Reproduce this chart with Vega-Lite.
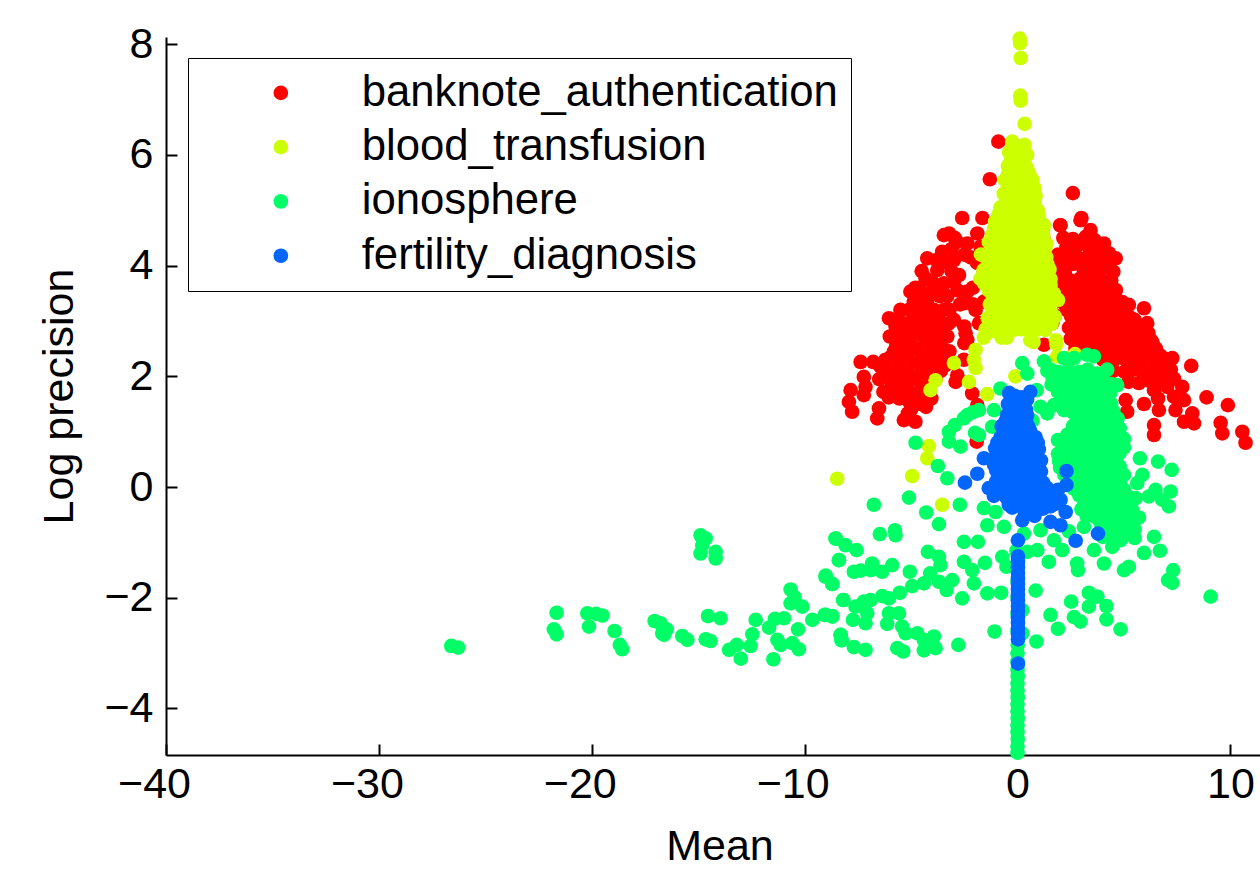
{"$schema":"https://vega.github.io/schema/vega-lite/v6.json","autosize":"none","padding":{"left":166,"top":37,"right":0,"bottom":117},"width":1107,"height":718,"background":"white",
"config":{"view":{"stroke":null},"font":"Liberation Sans","axis":{"grid":false,"domainColor":"black","domainWidth":2,"tickColor":"black","tickWidth":2,"tickSize":-11,"labelColor":"black","titleColor":"black","labelFontSize":43,"titleFontSize":43,"titleFontWeight":"normal","labelFont":"Liberation Sans","titleFont":"Liberation Sans"}},
"encoding":{"x":{"field":"m","type":"quantitative","title":"Mean","scale":{"domain":[-40,12],"nice":false,"zero":false},"axis":{"values":[-40,-30,-20,-10,0,10],"labelPadding":19,"titlePadding":19,"labelFlush":false,"labelOffset":{"condition":{"test":"datum.value<0","value":-12},"value":0}}},"y":{"field":"p","type":"quantitative","title":"Log precision","scale":{"domain":[-4.84,8.13],"nice":false,"zero":false},"axis":{"values":[-4,-2,0,2,4,6,8],"labelPadding":24,"titlePadding":22}}},
"layer":[
{"data":{"values":[{"m":-0.9,"p":6.24},{"m":-1.3,"p":5.56},{"m":2.6,"p":5.31},{"m":-2.6,"p":4.86},{"m":-1.65,"p":4.86},{"m":2.0,"p":4.73},{"m":3.0,"p":4.86},
{"m":-7.84,"p":1.75},{"m":-7.92,"p":1.54},{"m":-7.77,"p":1.36},{"m":-7.22,"p":1.99},{"m":-7.37,"p":2.26},{"m":-7.14,"p":1.81},{"m":-7.22,"p":1.66},{"m":-6.51,"p":1.42},{"m":-6.59,"p":1.24},{"m":-6.78,"p":2.26},{"m":-6.04,"p":3.05},{"m":-5.73,"p":2.9},{"m":-6.0,"p":2.72},{"m":-5.15,"p":1.33},{"m":-4.8,"p":1.18},{"m":-5.34,"p":1.21},
{"m":-6.45,"p":2.18},{"m":-6.5,"p":1.95},{"m":-6.3,"p":1.72},{"m":-6.05,"p":1.62},{"m":-5.9,"p":1.85},{"m":-6.1,"p":2.1},{"m":-5.95,"p":2.35},{"m":-5.7,"p":2.55},{"m":-5.6,"p":2.2},{"m":-5.5,"p":1.95},{"m":-5.55,"p":1.6},{"m":-5.1,"p":1.55},{"m":-5.2,"p":1.82},{"m":-5.15,"p":2.08},{"m":-5.2,"p":2.38},{"m":-5.25,"p":2.65},{"m":-5.3,"p":2.95},{"m":-4.85,"p":2.8},{"m":-4.75,"p":2.5},{"m":-4.7,"p":2.25},{"m":-4.75,"p":1.95},{"m":-4.65,"p":1.65},{"m":-4.3,"p":1.45},{"m":-4.25,"p":1.78},{"m":-4.3,"p":2.05},{"m":-4.25,"p":2.35},{"m":-4.3,"p":2.65},{"m":-4.35,"p":2.95},{"m":-3.9,"p":2.85},{"m":-3.85,"p":2.55},{"m":-3.8,"p":2.25},{"m":-3.85,"p":1.95},{"m":-3.5,"p":2.5},{"m":-3.4,"p":2.2},{"m":-3.55,"p":2.8},{"m":-3.25,"p":2.95},
{"m":-6.2,"p":2.0},{"m":-6.2,"p":2.3},{"m":-5.85,"p":2.05},{"m":-5.8,"p":1.7},{"m":-5.8,"p":2.45},{"m":-5.45,"p":2.4},{"m":-5.4,"p":2.75},{"m":-5.4,"p":1.75},{"m":-5.35,"p":2.1},{"m":-5.0,"p":1.95},{"m":-4.95,"p":2.25},{"m":-4.95,"p":2.55},{"m":-5.0,"p":1.7},{"m":-5.0,"p":1.4},{"m":-4.55,"p":1.5},{"m":-4.5,"p":1.8},{"m":-4.5,"p":2.1},{"m":-4.5,"p":2.4},{"m":-4.55,"p":2.75},{"m":-4.6,"p":3.0},{"m":-4.05,"p":1.6},{"m":-4.05,"p":1.9},{"m":-4.05,"p":2.2},{"m":-4.05,"p":2.5},{"m":-4.1,"p":2.75},{"m":-4.1,"p":3.0},{"m":-3.6,"p":2.1},{"m":-3.6,"p":2.35},{"m":-3.65,"p":2.65},{"m":-3.2,"p":2.45},{"m":-3.7,"p":3.0},{"m":-5.55,"p":3.0},{"m":-5.5,"p":2.55},{"m":-5.0,"p":2.95},{"m":-5.1,"p":3.2},{"m":-4.6,"p":3.4},{"m":-4.1,"p":3.5},{"m":-3.65,"p":3.45},{"m":-4.5,"p":3.9},{"m":-4.0,"p":3.7},{"m":-3.2,"p":3.2},{"m":-2.7,"p":3.3},{"m":-3.1,"p":3.9},{"m":-2.5,"p":4.2},{"m":-2.95,"p":4.5},{"m":-3.3,"p":4.05},{"m":-3.8,"p":4.1},{"m":-2.2,"p":4.15},{"m":-2.1,"p":3.6},{"m":-2.1,"p":3.3},{"m":-2.5,"p":2.6},{"m":-2.5,"p":2.9},{"m":-4.8,"p":3.6},{"m":-4.3,"p":3.1},{"m":-5.7,"p":2.75},{"m":-5.5,"p":3.2},
{"m":-5.03,"p":3.53},{"m":-4.32,"p":3.77},{"m":-4.24,"p":4.13},{"m":-4.87,"p":3.35},{"m":-3.77,"p":3.92},{"m":-3.46,"p":4.55},{"m":-3.22,"p":4.58},{"m":-2.83,"p":4.43},{"m":-3.54,"p":4.25},{"m":-2.99,"p":4.1},{"m":-2.36,"p":4.4},{"m":-1.89,"p":4.58},{"m":-1.74,"p":4.34},{"m":-2.75,"p":3.83},{"m":-3.46,"p":3.68},{"m":-2.36,"p":3.53},{"m":-2.52,"p":3.32},{"m":-1.97,"p":3.2},{"m":-1.58,"p":3.35},{"m":-1.58,"p":3.89},{"m":-1.81,"p":2.96},{"m":-2.44,"p":2.78},{"m":-2.36,"p":2.66},{"m":-2.91,"p":1.9},{"m":-2.83,"p":2.02},{"m":-2.13,"p":1.69},{"m":-1.89,"p":1.48},{"m":-1.89,"p":0.91},{"m":-1.92,"p":0.82},{"m":-2.52,"p":2.3},{"m":-3.93,"p":3.56},{"m":-4.24,"p":3.38},{"m":-4.55,"p":3.26},{"m":-4.87,"p":3.08},{"m":-3.93,"p":3.2},{"m":-3.46,"p":3.2},{"m":-2.99,"p":3.02},{"m":-3.3,"p":2.72},{"m":-3.1,"p":4.3},{"m":-3.3,"p":3.45},{"m":-3.0,"p":3.7},{"m":-2.8,"p":3.55},{"m":-4.6,"p":3.6},{"m":-1.9,"p":4.05},
{"m":1.24,"p":4.46},{"m":1.24,"p":2.57},{"m":1.63,"p":2.96},{"m":1.75,"p":3.1},
{"m":4.61,"p":4.13},{"m":4.5,"p":3.89},{"m":4.06,"p":4.4},{"m":2.02,"p":4.73},{"m":2.96,"p":4.82},{"m":3.43,"p":4.64},{"m":5.94,"p":3.23},{"m":5.23,"p":3.29},{"m":6.09,"p":2.96},{"m":7.27,"p":2.33},{"m":8.16,"p":2.19},{"m":8.88,"p":1.62},{"m":9.88,"p":1.48},{"m":9.54,"p":1.16},{"m":9.62,"p":0.97},{"m":10.56,"p":1.0},{"m":10.71,"p":0.8},{"m":6.41,"p":1.12},{"m":6.41,"p":0.94},{"m":5.94,"p":1.5},{"m":6.64,"p":1.39},{"m":8.29,"p":1.15},{"m":7.82,"p":1.18},{"m":8.21,"p":1.33},{"m":7.42,"p":1.39},{"m":7.74,"p":1.81},{"m":7.35,"p":1.96},{"m":6.72,"p":2.18},{"m":5.08,"p":1.57},{"m":5.15,"p":1.36},{"m":6.41,"p":1.75},{"m":7.82,"p":1.57},{"m":7.35,"p":1.63},{"m":7.03,"p":1.81},{"m":6.6,"p":1.6},
{"m":2.15,"p":4.5},{"m":2.6,"p":4.48},{"m":3.2,"p":4.52},{"m":3.62,"p":4.46},{"m":1.9,"p":4.2},{"m":2.42,"p":4.22},{"m":2.83,"p":4.15},{"m":3.4,"p":4.24},{"m":3.92,"p":4.18},{"m":4.3,"p":4.22},{"m":1.7,"p":3.92},{"m":2.22,"p":3.86},{"m":3.1,"p":3.94},{"m":3.62,"p":3.88},{"m":4.02,"p":3.95},{"m":1.82,"p":3.62},{"m":2.3,"p":3.58},{"m":2.82,"p":3.64},{"m":3.3,"p":3.56},{"m":3.84,"p":3.62},{"m":4.3,"p":3.6},{"m":4.62,"p":3.56},{"m":2.05,"p":3.35},{"m":2.52,"p":3.3},{"m":3.0,"p":3.38},{"m":3.42,"p":3.32},{"m":3.9,"p":3.36},{"m":4.42,"p":3.3},{"m":4.92,"p":3.34},{"m":2.52,"p":3.08},{"m":3.0,"p":3.12},{"m":3.44,"p":3.05},{"m":3.9,"p":3.12},{"m":4.4,"p":3.06},{"m":4.82,"p":3.12},{"m":5.3,"p":3.06},{"m":2.42,"p":2.88},{"m":2.92,"p":2.86},{"m":3.3,"p":2.92},{"m":3.84,"p":2.86},{"m":4.3,"p":2.92},{"m":4.8,"p":2.85},{"m":5.32,"p":2.9},{"m":5.7,"p":2.86},{"m":6.0,"p":2.8},{"m":2.5,"p":2.68},{"m":3.04,"p":2.72},{"m":3.5,"p":2.66},{"m":4.0,"p":2.7},{"m":4.52,"p":2.66},{"m":5.0,"p":2.7},{"m":5.5,"p":2.66},{"m":6.02,"p":2.7},{"m":6.3,"p":2.64},{"m":2.72,"p":2.5},{"m":3.22,"p":2.48},{"m":3.7,"p":2.52},{"m":4.2,"p":2.46},{"m":4.7,"p":2.52},{"m":5.2,"p":2.47},{"m":5.7,"p":2.5},{"m":6.2,"p":2.46},{"m":6.5,"p":2.5},{"m":4.02,"p":2.3},{"m":4.5,"p":2.28},{"m":5.0,"p":2.32},{"m":5.5,"p":2.26},{"m":6.02,"p":2.3},{"m":6.5,"p":2.27},{"m":6.9,"p":2.32},{"m":4.5,"p":2.1},{"m":5.02,"p":2.08},{"m":5.42,"p":2.12},{"m":5.9,"p":2.08},{"m":6.4,"p":2.1},{"m":6.9,"p":2.06},{"m":7.2,"p":2.12},{"m":5.22,"p":1.9},{"m":5.7,"p":1.88},{"m":6.2,"p":1.92},{"m":6.62,"p":1.88},{"m":7.1,"p":1.92},
{"m":2.0,"p":3.75},{"m":2.5,"p":3.73},{"m":2.95,"p":3.77},{"m":3.4,"p":3.74},{"m":3.9,"p":3.76},{"m":4.4,"p":3.73},{"m":2.1,"p":3.48},{"m":2.55,"p":3.46},{"m":3.05,"p":3.5},{"m":3.55,"p":3.47},{"m":4.1,"p":3.49},{"m":4.55,"p":3.46},{"m":2.3,"p":3.2},{"m":2.75,"p":3.22},{"m":3.2,"p":3.18},{"m":3.65,"p":3.21},{"m":4.15,"p":3.19},{"m":4.6,"p":3.22},{"m":5.05,"p":3.18},{"m":2.7,"p":3.0},{"m":3.15,"p":2.98},{"m":3.6,"p":3.02},{"m":4.1,"p":2.99},{"m":4.55,"p":3.01},{"m":5.05,"p":2.98},{"m":5.5,"p":3.02},{"m":2.75,"p":2.78},{"m":3.25,"p":2.8},{"m":3.75,"p":2.76},{"m":4.25,"p":2.79},{"m":4.75,"p":2.77},{"m":5.25,"p":2.8},{"m":5.75,"p":2.76},{"m":6.15,"p":2.78},{"m":2.95,"p":2.6},{"m":3.45,"p":2.58},{"m":3.95,"p":2.62},{"m":4.45,"p":2.59},{"m":4.95,"p":2.61},{"m":5.45,"p":2.58},{"m":5.95,"p":2.62},{"m":6.35,"p":2.6},{"m":4.25,"p":2.4},{"m":4.75,"p":2.38},{"m":5.25,"p":2.42},{"m":5.75,"p":2.39},{"m":6.25,"p":2.41},{"m":6.7,"p":2.38},{"m":2.3,"p":4.35},{"m":2.8,"p":4.37},{"m":3.35,"p":4.33},{"m":3.8,"p":4.36},{"m":2.0,"p":4.05},{"m":2.6,"p":4.03},{"m":3.3,"p":4.07},{"m":3.8,"p":4.04},{"m":4.2,"p":4.06}]},
"mark":{"type":"point","filled":true,"size":215,"opacity":1,"strokeWidth":0},"encoding":{"color":{"datum":"banknote_authentication","scale":{"domain":["banknote_authentication","blood_transfusion","ionosphere","fertility_diagnosis"],"range":["#ff0000","#ccff00","#00ff66","#0066ff"]},"legend":{"orient":"none","legendX":22,"legendY":21,"title":null,"symbolType":"circle","symbolSize":215,"symbolOpacity":1,"symbolStrokeWidth":0,"labelFontSize":43.7,"labelFont":"Liberation Sans","labelColor":"black","labelOffset":59,"symbolOffset":58,"rowPadding":9.3,"padding":13,"strokeColor":"black","fillColor":"white","labelLimit":600,"encoding":{"legend":{"update":{"stroke":{"value":"black"},"strokeWidth":{"value":2}}}}}}}},
{"data":{"values":[{"m":0.1,"p":8.1},{"m":0.12,"p":8.02},{"m":0.15,"p":7.75},{"m":0.13,"p":7.07},{"m":0.15,"p":6.98},{"m":0.33,"p":6.56},{"m":-0.25,"p":6.24},{"m":0.33,"p":6.18},
{"m":-0.4,"p":6.05},{"m":-0.1,"p":6.02},{"m":0.2,"p":6.06},{"m":0.45,"p":6.0},{"m":-0.45,"p":5.8},{"m":-0.15,"p":5.78},{"m":0.15,"p":5.82},{"m":0.45,"p":5.76},{"m":-0.6,"p":5.55},{"m":-0.25,"p":5.52},{"m":0.05,"p":5.56},{"m":0.35,"p":5.52},{"m":0.7,"p":5.55},{"m":-0.65,"p":5.3},{"m":-0.3,"p":5.28},{"m":0,"p":5.32},{"m":0.3,"p":5.28},{"m":0.65,"p":5.3},{"m":0.85,"p":5.26},{"m":-0.8,"p":5.05},{"m":-0.4,"p":5.02},{"m":-0.05,"p":5.06},{"m":0.3,"p":5.02},{"m":0.6,"p":5.05},{"m":0.95,"p":5.0},{"m":-1.05,"p":4.8},{"m":-0.7,"p":4.78},{"m":-0.35,"p":4.82},{"m":0,"p":4.78},{"m":0.35,"p":4.8},{"m":0.7,"p":4.76},{"m":1.05,"p":4.8},{"m":1.24,"p":4.73},{"m":-1.2,"p":4.55},{"m":-0.8,"p":4.52},{"m":-0.4,"p":4.56},{"m":0,"p":4.52},{"m":0.4,"p":4.55},{"m":0.8,"p":4.5},{"m":1.2,"p":4.55},{"m":-1.72,"p":4.2},{"m":-1.2,"p":4.3},{"m":-0.8,"p":4.27},{"m":-0.4,"p":4.32},{"m":0,"p":4.28},{"m":0.4,"p":4.3},{"m":0.8,"p":4.26},{"m":1.3,"p":4.32},{"m":-1.3,"p":4.05},{"m":-0.9,"p":4.02},{"m":-0.5,"p":4.06},{"m":-0.1,"p":4.03},{"m":0.3,"p":4.07},{"m":0.7,"p":4.02},{"m":1.1,"p":4.05},{"m":1.4,"p":4.02},{"m":-1.75,"p":3.76},{"m":-1.35,"p":3.8},{"m":-0.95,"p":3.78},{"m":-0.5,"p":3.82},{"m":0,"p":3.78},{"m":0.5,"p":3.82},{"m":0.95,"p":3.78},{"m":1.35,"p":3.82},{"m":1.55,"p":3.76},{"m":-1.35,"p":3.55},{"m":-0.9,"p":3.52},{"m":-0.45,"p":3.56},{"m":0,"p":3.52},{"m":0.45,"p":3.55},{"m":0.9,"p":3.52},{"m":1.35,"p":3.56},{"m":1.7,"p":3.5},{"m":-1.3,"p":3.3},{"m":-0.9,"p":3.28},{"m":-0.45,"p":3.32},{"m":0,"p":3.28},{"m":0.45,"p":3.3},{"m":0.9,"p":3.26},{"m":1.35,"p":3.32},{"m":1.9,"p":3.38},{"m":-1.4,"p":3.05},{"m":-0.95,"p":3.02},{"m":-0.5,"p":3.06},{"m":0,"p":3.02},{"m":0.5,"p":3.05},{"m":0.95,"p":3.02},{"m":1.35,"p":3.06},{"m":1.75,"p":3.08},{"m":-1.5,"p":2.85},{"m":-1.1,"p":2.82},{"m":-0.65,"p":2.86},{"m":-0.2,"p":2.84},{"m":0.2,"p":2.85},{"m":0.65,"p":2.82},{"m":1.0,"p":2.86},{"m":1.3,"p":2.84},{"m":-0.75,"p":2.7},{"m":-0.5,"p":2.7},{"m":0.6,"p":2.65},{"m":0.75,"p":2.62},{"m":-1.58,"p":2.7},{"m":1.8,"p":2.65},{"m":1.82,"p":2.58},
{"m":-0.3,"p":5.9},{"m":0,"p":5.92},{"m":0.3,"p":5.89},{"m":-0.45,"p":5.65},{"m":-0.1,"p":5.67},{"m":0.2,"p":5.64},{"m":0.55,"p":5.66},{"m":-0.45,"p":5.42},{"m":-0.1,"p":5.44},{"m":0.2,"p":5.41},{"m":0.5,"p":5.43},{"m":0.8,"p":5.4},{"m":-0.55,"p":5.18},{"m":-0.2,"p":5.16},{"m":0.15,"p":5.19},{"m":0.45,"p":5.17},{"m":0.8,"p":5.15},{"m":-0.9,"p":4.92},{"m":-0.55,"p":4.94},{"m":-0.2,"p":4.91},{"m":0.15,"p":4.93},{"m":0.45,"p":4.9},{"m":0.8,"p":4.92},{"m":1.0,"p":4.9},{"m":-1.1,"p":4.67},{"m":-0.6,"p":4.65},{"m":-0.2,"p":4.68},{"m":0.2,"p":4.66},{"m":0.55,"p":4.64},{"m":0.95,"p":4.67},{"m":1.2,"p":4.65},{"m":-1.35,"p":4.42},{"m":-1.0,"p":4.4},{"m":-0.6,"p":4.43},{"m":-0.2,"p":4.41},{"m":0.2,"p":4.44},{"m":0.6,"p":4.4},{"m":1.0,"p":4.42},{"m":1.35,"p":4.4},{"m":-1.55,"p":4.17},{"m":-1.1,"p":4.15},{"m":-0.6,"p":4.18},{"m":-0.2,"p":4.16},{"m":0.2,"p":4.19},{"m":0.6,"p":4.15},{"m":1.0,"p":4.17},{"m":1.35,"p":4.15},{"m":-1.6,"p":3.92},{"m":-1.15,"p":3.9},{"m":-0.7,"p":3.93},{"m":-0.3,"p":3.91},{"m":0.15,"p":3.94},{"m":0.5,"p":3.9},{"m":0.9,"p":3.92},{"m":1.3,"p":3.9},{"m":1.5,"p":3.93},{"m":-1.55,"p":3.67},{"m":-1.15,"p":3.65},{"m":-0.7,"p":3.68},{"m":-0.25,"p":3.66},{"m":0.25,"p":3.69},{"m":0.7,"p":3.65},{"m":1.15,"p":3.67},{"m":1.55,"p":3.65},{"m":-1.15,"p":3.42},{"m":-0.65,"p":3.4},{"m":-0.2,"p":3.43},{"m":0.25,"p":3.41},{"m":0.7,"p":3.44},{"m":1.15,"p":3.4},{"m":1.55,"p":3.42},{"m":-1.2,"p":3.17},{"m":-0.7,"p":3.15},{"m":-0.25,"p":3.18},{"m":0.25,"p":3.16},{"m":0.7,"p":3.19},{"m":1.15,"p":3.15},{"m":1.55,"p":3.17},{"m":-1.25,"p":2.95},{"m":-0.75,"p":2.93},{"m":-0.25,"p":2.96},{"m":0.25,"p":2.94},{"m":0.75,"p":2.97},{"m":1.15,"p":2.93},{"m":1.6,"p":2.95},
{"m":-1.97,"p":2.48},{"m":-2.05,"p":2.3},{"m":-1.97,"p":2.15},{"m":-2.28,"p":1.9},{"m":-2.99,"p":2.24},{"m":-3.85,"p":1.93},{"m":-4.09,"p":1.75},{"m":-1.42,"p":1.68},{"m":-0.1,"p":2.0},{"m":1.87,"p":2.36},{"m":2.7,"p":2.4},{"m":-4.16,"p":0.74},{"m":-4.24,"p":0.52},{"m":-4.95,"p":0.2},{"m":-8.47,"p":0.15},{"m":-3.54,"p":-0.32},{"m":0.07,"p":-0.35}]},
"mark":{"type":"point","filled":true,"size":215,"opacity":1,"strokeWidth":0},"encoding":{"color":{"datum":"blood_transfusion","scale":{"domain":["banknote_authentication","blood_transfusion","ionosphere","fertility_diagnosis"],"range":["#ff0000","#ccff00","#00ff66","#0066ff"]}}}},
{"data":{"values":[{"m":0,"p":-4.8},{"m":0,"p":-4.68},{"m":0.01,"p":-4.55},{"m":0,"p":-4.42},{"m":0,"p":-4.3},{"m":0.01,"p":-4.18},{"m":0,"p":-4.05},{"m":0,"p":-3.92},{"m":0.01,"p":-3.8},{"m":0,"p":-3.68},{"m":0,"p":-3.55},{"m":0.01,"p":-3.42},{"m":0,"p":-3.3},{"m":0,"p":-3.15},{"m":0,"p":-3.0},{"m":0.01,"p":-2.85},{"m":0,"p":-2.6},{"m":0,"p":-2.3},{"m":0,"p":-2.0},{"m":0,"p":-1.7},{"m":0,"p":-1.4},{"m":-0.05,"p":-1.15},
{"m":0.22,"p":2.24},{"m":0.46,"p":2.05},{"m":1.24,"p":2.27},{"m":1.55,"p":2.12},{"m":2.18,"p":2.33},{"m":2.65,"p":2.33},{"m":3.27,"p":2.39},{"m":3.59,"p":2.36},{"m":3.75,"p":2.05},{"m":4.21,"p":2.12},{"m":4.68,"p":1.84},{"m":-0.8,"p":1.78},{"m":-1.11,"p":1.39},{"m":-1.19,"p":1.09},{"m":-1.81,"p":1.39},{"m":-2.36,"p":1.3},{"m":-2.52,"p":1.24},{"m":-3.22,"p":1.0},{"m":-3.22,"p":0.82},{"m":-2.68,"p":0.73},{"m":-1.81,"p":0.94},{"m":-4.79,"p":0.8},{"m":-2.95,"p":1.12},{"m":-2.1,"p":1.35},{"m":-2.0,"p":0.98},{"m":1.08,"p":1.45},{"m":1.71,"p":1.48},{"m":1.4,"p":1.33},{"m":2.18,"p":1.39},{"m":0.9,"p":1.75},{"m":0.7,"p":1.2},
{"m":1.4,"p":2.1},{"m":1.9,"p":2.08},{"m":2.4,"p":2.12},{"m":2.9,"p":2.08},{"m":3.3,"p":2.12},{"m":1.6,"p":1.85},{"m":2.1,"p":1.82},{"m":2.6,"p":1.87},{"m":3.1,"p":1.83},{"m":3.6,"p":1.86},{"m":4.0,"p":1.82},{"m":4.4,"p":1.86},{"m":2.2,"p":1.6},{"m":2.7,"p":1.58},{"m":3.2,"p":1.62},{"m":3.7,"p":1.58},{"m":4.2,"p":1.6},{"m":2.6,"p":1.35},{"m":3.0,"p":1.33},{"m":3.5,"p":1.37},{"m":4.0,"p":1.33},{"m":4.5,"p":1.36},{"m":2.6,"p":1.1},{"m":3.0,"p":1.08},{"m":3.5,"p":1.12},{"m":4.0,"p":1.08},{"m":4.5,"p":1.1},{"m":4.8,"p":1.06},{"m":1.9,"p":0.85},{"m":2.5,"p":0.83},{"m":3.0,"p":0.87},{"m":3.5,"p":0.83},{"m":4.0,"p":0.86},{"m":4.5,"p":0.83},{"m":5.0,"p":0.87},{"m":1.9,"p":0.6},{"m":2.4,"p":0.58},{"m":2.9,"p":0.62},{"m":3.4,"p":0.58},{"m":3.9,"p":0.6},{"m":4.4,"p":0.58},{"m":4.8,"p":0.62},{"m":2.0,"p":0.35},{"m":2.5,"p":0.33},{"m":3.0,"p":0.37},{"m":3.5,"p":0.33},{"m":4.0,"p":0.35},{"m":4.5,"p":0.33},{"m":4.8,"p":0.37},{"m":2.4,"p":0.1},{"m":2.9,"p":0.08},{"m":3.4,"p":0.12},{"m":3.9,"p":0.08},{"m":4.4,"p":0.1},{"m":4.8,"p":0.08},{"m":2.9,"p":-0.15},{"m":3.3,"p":-0.17},{"m":3.8,"p":-0.13},{"m":4.3,"p":-0.17},{"m":4.7,"p":-0.15},{"m":5.2,"p":-0.17},{"m":3.0,"p":-0.4},{"m":3.5,"p":-0.42},{"m":3.9,"p":-0.38},{"m":4.4,"p":-0.42},{"m":4.9,"p":-0.4},{"m":5.4,"p":-0.42},{"m":3.9,"p":-0.65},{"m":4.4,"p":-0.67},{"m":4.9,"p":-0.63},{"m":5.3,"p":-0.67},{"m":4.0,"p":-0.9},{"m":4.5,"p":-0.92},{"m":5.0,"p":-0.88},{"m":5.5,"p":-0.92},
{"m":1.65,"p":1.97},{"m":2.15,"p":1.95},{"m":2.65,"p":1.98},{"m":3.1,"p":1.96},{"m":3.55,"p":1.99},{"m":4.0,"p":1.95},{"m":1.9,"p":1.72},{"m":2.4,"p":1.7},{"m":2.95,"p":1.73},{"m":3.45,"p":1.71},{"m":3.95,"p":1.74},{"m":4.35,"p":1.7},{"m":2.45,"p":1.48},{"m":2.9,"p":1.46},{"m":3.45,"p":1.49},{"m":3.95,"p":1.47},{"m":4.4,"p":1.5},{"m":2.8,"p":1.22},{"m":3.25,"p":1.2},{"m":3.75,"p":1.23},{"m":4.25,"p":1.21},{"m":4.7,"p":1.24},{"m":2.8,"p":0.97},{"m":3.25,"p":0.95},{"m":3.75,"p":0.98},{"m":4.25,"p":0.96},{"m":4.75,"p":0.99},{"m":2.35,"p":0.95},{"m":2.2,"p":0.72},{"m":2.7,"p":0.7},{"m":3.2,"p":0.73},{"m":3.7,"p":0.71},{"m":4.2,"p":0.74},{"m":4.7,"p":0.7},{"m":5.0,"p":0.72},{"m":1.95,"p":0.47},{"m":2.2,"p":0.45},{"m":2.65,"p":0.48},{"m":3.15,"p":0.46},{"m":3.65,"p":0.49},{"m":4.15,"p":0.45},{"m":4.65,"p":0.47},{"m":2.2,"p":0.22},{"m":2.65,"p":0.2},{"m":3.15,"p":0.23},{"m":3.65,"p":0.21},{"m":4.15,"p":0.24},{"m":4.65,"p":0.2},{"m":5.0,"p":0.22},{"m":2.65,"p":-0.03},{"m":3.15,"p":-0.05},{"m":3.65,"p":-0.02},{"m":4.1,"p":-0.04},{"m":4.55,"p":-0.01},{"m":5.0,"p":-0.05},{"m":3.15,"p":-0.28},{"m":3.55,"p":-0.3},{"m":4.05,"p":-0.27},{"m":4.5,"p":-0.29},{"m":4.95,"p":-0.26},{"m":5.3,"p":-0.3},{"m":3.25,"p":-0.53},{"m":3.7,"p":-0.55},{"m":4.15,"p":-0.52},{"m":4.65,"p":-0.54},{"m":5.1,"p":-0.51},{"m":5.5,"p":-0.55},{"m":3.95,"p":-0.78},{"m":4.25,"p":-0.8},{"m":4.7,"p":-0.77},{"m":5.15,"p":-0.79},{"m":5.5,"p":-0.76},
{"m":5.75,"p":0.52},{"m":6.6,"p":0.46},{"m":7.24,"p":0.31},{"m":5.86,"p":0.22},{"m":6.17,"p":-0.17},{"m":6.48,"p":-0.05},{"m":7.19,"p":-0.08},{"m":7.11,"p":-0.35},{"m":6.8,"p":-0.23},{"m":5.62,"p":0.07},{"m":5.55,"p":-0.2},{"m":5.7,"p":-0.55},{"m":6.41,"p":-0.9},{"m":6.69,"p":-1.15},{"m":5.94,"p":-1.19},{"m":5.23,"p":-1.44},{"m":5.0,"p":-1.5},{"m":7.31,"p":-1.5},{"m":7.07,"p":-1.68},{"m":7.27,"p":-1.73},{"m":9.07,"p":-1.98},{"m":4.06,"p":-1.38},{"m":3.59,"p":-1.14},{"m":4.45,"p":-1.08},{"m":4.84,"p":-0.96},{"m":3.12,"p":-0.72},{"m":2.8,"p":-1.38},{"m":2.84,"p":-1.5},{"m":2.1,"p":-1.14},{"m":1.47,"p":-1.35},{"m":0.93,"p":-1.14},{"m":1.71,"p":-0.96},{"m":2.41,"p":-0.8},{"m":1.08,"p":-0.78},{"m":0.46,"p":-1.17},{"m":0.3,"p":-0.84},{"m":-0.64,"p":-0.72},{"m":-1.42,"p":-0.69},{"m":-1.03,"p":-0.45},{"m":-1.58,"p":-0.38},{"m":-0.72,"p":-1.26},{"m":-0.52,"p":-1.44},{"m":-1.53,"p":-1.37},{"m":-1.86,"p":-0.99},{"m":-2.52,"p":-0.99},{"m":-2.52,"p":-1.35},{"m":-2.13,"p":-1.5},{"m":-2.05,"p":-1.74},{"m":-1.42,"p":-1.92},{"m":-0.77,"p":-1.91},{"m":0.85,"p":-1.87},{"m":-2.6,"p":-2.01},{"m":-2.71,"p":-0.32},{"m":-3.69,"p":-0.67},{"m":-4.29,"p":-0.46},{"m":-5.1,"p":-0.19},{"m":-6.75,"p":-0.32},{"m":-3.74,"p":0.38},{"m":-3.3,"p":0.16},{"m":-5.76,"p":-0.78},{"m":-5.73,"p":-0.87},{"m":-6.47,"p":-0.85},{"m":-8.55,"p":-0.93},{"m":-8.08,"p":-1.05},{"m":-7.56,"p":-1.14},{"m":-8.39,"p":-1.32},{"m":-7.69,"p":-1.53},{"m":-7.37,"p":-1.51},{"m":-6.9,"p":-1.5},{"m":-6.83,"p":-1.38},{"m":-6.36,"p":-1.53},{"m":-5.89,"p":-1.41},{"m":-5.06,"p":-1.53},{"m":-4.21,"p":-1.17},{"m":-3.69,"p":-1.26},{"m":-3.62,"p":-1.41},{"m":-4.1,"p":-1.56},{"m":-4.4,"p":-1.74},{"m":-4.95,"p":-1.79},{"m":-3.07,"p":-1.68},{"m":-3.33,"p":-1.86},{"m":-3.69,"p":-1.71},{"m":-5.53,"p":-1.91},{"m":-6.04,"p":-2.01},{"m":-6.36,"p":-1.97},{"m":-6.9,"p":-2.04},{"m":-7.22,"p":-2.07},{"m":-7.61,"p":-2.16},{"m":-8.19,"p":-2.04},{"m":-9.02,"p":-1.62},{"m":-8.7,"p":-1.75},{"m":-9.02,"p":-2.31},{"m":-8.7,"p":-2.34},{"m":-7.73,"p":-2.4},{"m":-7.14,"p":-2.46},{"m":-7.06,"p":-2.28},{"m":-8.31,"p":-2.67},{"m":-8.27,"p":-2.77},{"m":-7.69,"p":-2.89},{"m":-7.14,"p":-2.94},{"m":-6.04,"p":-2.28},{"m":-5.57,"p":-2.28},{"m":-6.12,"p":-2.47},{"m":-5.42,"p":-2.52},{"m":-5.26,"p":-2.64},{"m":-4.71,"p":-2.64},{"m":-3.93,"p":-2.7},{"m":-4.4,"p":-2.76},{"m":-4.4,"p":-2.95},{"m":-3.85,"p":-2.91},{"m":-5.65,"p":-2.91},{"m":-5.37,"p":-2.97},{"m":-2.78,"p":-2.85},{"m":-1.08,"p":-2.61},{"m":0.89,"p":-2.79},{"m":0.22,"p":-2.64},{"m":0.22,"p":-2.22},{"m":1.55,"p":-2.31},{"m":1.9,"p":-2.56},{"m":2.52,"p":-2.07},{"m":2.65,"p":-2.35},{"m":2.96,"p":-2.43},{"m":3.35,"p":-2.16},{"m":3.35,"p":-1.91},{"m":3.75,"p":-1.98},{"m":4.18,"p":-2.15},{"m":4.18,"p":-2.39},{"m":4.84,"p":-2.57},
{"m":-26.6,"p":-2.87},{"m":-26.27,"p":-2.9},{"m":-21.65,"p":-2.27},{"m":-21.78,"p":-2.57},{"m":-21.65,"p":-2.66},{"m":-20.21,"p":-2.28},{"m":-19.79,"p":-2.29},{"m":-19.5,"p":-2.32},{"m":-20.13,"p":-2.52},{"m":-18.93,"p":-2.6},{"m":-18.68,"p":-2.85},{"m":-18.57,"p":-2.93},{"m":-17.05,"p":-2.42},{"m":-16.77,"p":-2.46},{"m":-16.48,"p":-2.57},{"m":-16.69,"p":-2.64},{"m":-16.6,"p":-2.67},{"m":-15.75,"p":-2.69},{"m":-15.51,"p":-2.76},{"m":-14.65,"p":-2.75},{"m":-14.42,"p":-2.78},{"m":-14.54,"p":-2.33},{"m":-13.95,"p":-2.37},{"m":-14.89,"p":-0.87},{"m":-14.65,"p":-0.93},{"m":-14.81,"p":-1.05},{"m":-14.89,"p":-1.2},{"m":-14.18,"p":-1.17},{"m":-14.18,"p":-1.29},{"m":-13.55,"p":-2.94},{"m":-13.19,"p":-2.85},{"m":-13.0,"p":-3.1},{"m":-12.54,"p":-2.87},{"m":-12.46,"p":-2.66},{"m":-12.3,"p":-2.4},{"m":-11.67,"p":-2.54},{"m":-11.4,"p":-2.38},{"m":-10.97,"p":-2.37},{"m":-11.28,"p":-2.76},{"m":-11.13,"p":-2.85},{"m":-11.47,"p":-3.11},{"m":-10.58,"p":-2.82},{"m":-10.27,"p":-2.93},{"m":-10.31,"p":-2.57},{"m":-10.66,"p":-2.1},{"m":-10.66,"p":-1.85},{"m":-10.47,"p":-1.99},{"m":-10.11,"p":-2.16},{"m":-9.64,"p":-2.4},{"m":-9.06,"p":-2.31},{"m":-8.7,"p":-2.33},{"m":-8.31,"p":-2.67},{"m":-8.26,"p":-2.76},{"m":-9.01,"p":-1.6},{"m":-8.7,"p":-1.75},{"m":-8.54,"p":-0.93},{"m":-8.39,"p":-1.32},{"m":-8.18,"p":-2.04}]},
"mark":{"type":"point","filled":true,"size":215,"opacity":1,"strokeWidth":0},"encoding":{"color":{"datum":"ionosphere","scale":{"domain":["banknote_authentication","blood_transfusion","ionosphere","fertility_diagnosis"],"range":["#ff0000","#ccff00","#00ff66","#0066ff"]}}}},
{"data":{"values":[{"m":-0.4,"p":1.7},{"m":0.6,"p":1.72},{"m":-0.15,"p":1.65},{"m":0.2,"p":1.62},{"m":-0.45,"p":1.5},{"m":-0.1,"p":1.48},{"m":0.3,"p":1.52},{"m":-0.5,"p":1.3},{"m":-0.15,"p":1.28},{"m":0.2,"p":1.32},{"m":0.45,"p":1.3},{"m":-0.75,"p":1.1},{"m":-0.35,"p":1.08},{"m":0,"p":1.12},{"m":0.35,"p":1.08},{"m":0.5,"p":1.1},{"m":-0.8,"p":0.9},{"m":-0.4,"p":0.88},{"m":0,"p":0.92},{"m":0.4,"p":0.88},{"m":0.85,"p":0.9},{"m":-1.05,"p":0.7},{"m":-0.6,"p":0.68},{"m":-0.2,"p":0.72},{"m":0.2,"p":0.68},{"m":0.6,"p":0.7},{"m":1.0,"p":0.68},{"m":-1.15,"p":0.5},{"m":-0.7,"p":0.48},{"m":-0.25,"p":0.52},{"m":0.2,"p":0.48},{"m":0.65,"p":0.5},{"m":1.1,"p":0.48},{"m":-1.58,"p":0.52},{"m":-1.89,"p":0.24},{"m":-2.47,"p":0.08},{"m":-1.0,"p":0.3},{"m":-0.55,"p":0.28},{"m":-0.1,"p":0.32},{"m":0.35,"p":0.28},{"m":0.8,"p":0.3},{"m":1.1,"p":0.28},{"m":-1.0,"p":0.1},{"m":-0.55,"p":0.08},{"m":-0.1,"p":0.12},{"m":0.35,"p":0.08},{"m":0.8,"p":0.1},{"m":1.2,"p":0.08},{"m":-0.6,"p":-0.1},{"m":-0.2,"p":-0.12},{"m":0.25,"p":-0.08},{"m":0.7,"p":-0.12},{"m":1.2,"p":-0.1},{"m":-0.3,"p":-0.3},{"m":0.1,"p":-0.32},{"m":0.5,"p":-0.28},{"m":1.0,"p":-0.32},{"m":1.4,"p":-0.3},
{"m":-0.25,"p":1.58},{"m":0.05,"p":1.6},{"m":0.45,"p":1.58},{"m":-0.3,"p":1.4},{"m":0.1,"p":1.42},{"m":0.4,"p":1.4},{"m":-0.55,"p":1.2},{"m":-0.3,"p":1.22},{"m":0.05,"p":1.19},{"m":0.4,"p":1.21},{"m":-0.6,"p":1.0},{"m":-0.2,"p":1.02},{"m":0.2,"p":0.99},{"m":0.6,"p":1.01},{"m":-0.95,"p":0.8},{"m":-0.6,"p":0.78},{"m":-0.2,"p":0.81},{"m":0.2,"p":0.79},{"m":0.6,"p":0.82},{"m":0.95,"p":0.8},{"m":-0.9,"p":0.6},{"m":-0.45,"p":0.58},{"m":0,"p":0.61},{"m":0.4,"p":0.59},{"m":0.85,"p":0.62},{"m":-1.1,"p":0.4},{"m":-0.75,"p":0.38},{"m":-0.3,"p":0.41},{"m":0.15,"p":0.39},{"m":0.6,"p":0.42},{"m":1.0,"p":0.38},{"m":-0.8,"p":0.2},{"m":-0.35,"p":0.18},{"m":0.1,"p":0.21},{"m":0.6,"p":0.19},{"m":1.0,"p":0.22},{"m":-0.8,"p":0},{"m":-0.4,"p":-0.02},{"m":0.05,"p":0.01},{"m":0.5,"p":-0.01},{"m":0.95,"p":0.02},{"m":1.4,"p":-0.02},{"m":-0.5,"p":-0.2},{"m":-0.05,"p":-0.22},{"m":0.4,"p":-0.19},{"m":0.9,"p":-0.21},{"m":1.35,"p":-0.18},{"m":1.7,"p":-0.22},{"m":0.3,"p":-0.4},{"m":0.75,"p":-0.42},{"m":1.2,"p":-0.39},{"m":0.35,"p":-0.5},{"m":0.8,"p":-0.52},{"m":1.8,"p":-0.3},{"m":1.9,"p":-0.05},
{"m":2.3,"p":0.29},{"m":2.3,"p":0.04},{"m":2.26,"p":-0.45},{"m":-1.35,"p":-0.02},{"m":-1.11,"p":-0.16},{"m":-0.41,"p":-0.32},{"m":-0.25,"p":-0.37},{"m":0.22,"p":-0.6},{"m":1.55,"p":-0.63},{"m":2.02,"p":-0.69},{"m":2.73,"p":-0.97},{"m":3.78,"p":-0.84},{"m":0.02,"p":-0.96},{"m":2.02,"p":-0.23},{"m":1.55,"p":-0.35},{"m":1.7,"p":-0.1},
{"m":0.02,"p":-1.25},{"m":0.02,"p":-1.35},{"m":0.02,"p":-1.45},{"m":0.02,"p":-1.55},{"m":0.02,"p":-1.65},{"m":0.02,"p":-1.75},{"m":0.02,"p":-1.85},{"m":0.02,"p":-1.95},{"m":0.02,"p":-2.05},{"m":0.02,"p":-2.15},{"m":0.02,"p":-2.25},{"m":0.02,"p":-2.35},{"m":0.02,"p":-2.45},{"m":0.02,"p":-2.55},{"m":0.02,"p":-2.65},{"m":0.02,"p":-2.75},{"m":0.02,"p":-3.19}]},
"mark":{"type":"point","filled":true,"size":215,"opacity":1,"strokeWidth":0},"encoding":{"color":{"datum":"fertility_diagnosis","scale":{"domain":["banknote_authentication","blood_transfusion","ionosphere","fertility_diagnosis"],"range":["#ff0000","#ccff00","#00ff66","#0066ff"]}}}}
],
"resolve":{"scale":{"color":"shared"}}}
